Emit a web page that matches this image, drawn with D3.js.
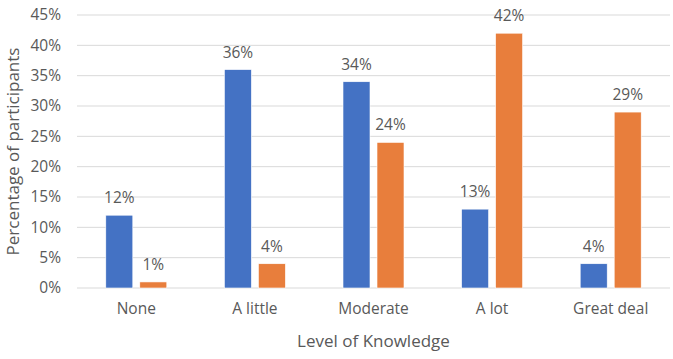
<!DOCTYPE html>
<html><head><meta charset="utf-8">
<script src="https://cdn.jsdelivr.net/npm/d3@7"></script>
<style>body{margin:0;background:#fff}svg{display:block}text{font-family:"Open Sans","Noto Sans",sans-serif;fill:#595959}</style>
</head><body><svg id="c" width="673" height="359"></svg>
<script>
const categories = ["None","A little","Moderate","A lot","Great deal"];
const series1 = [12,36,34,13,4];
const series2 = [1,4,24,42,29];
const yTicks = [0,5,10,15,20,25,30,35,40,45];
const colors = ["#4472C4","#E87E3C"];

const W=673,H=359, m={l:77,r:3,t:15,b:71};
const svg=d3.select("#c");
const x=d3.scaleBand().domain(categories).range([m.l,W-m.r]);
const y=d3.scaleLinear().domain([0,45]).range([H-m.b,m.t]);

const g=svg.append("g");
g.selectAll("line.grid").data(yTicks).join("line")
 .attr("x1",m.l).attr("x2",W-m.r).attr("y1",d=>y(d)).attr("y2",d=>y(d))
 .attr("stroke","#d9d9d9").attr("stroke-width",1);

const yAxis=d3.axisLeft(y).tickValues(yTicks).tickFormat(d=>d+"%").tickSize(0).tickPadding(16);
const ya=svg.append("g").attr("transform",`translate(${m.l},0)`).call(yAxis);
ya.select(".domain").remove();
ya.selectAll("text").style("font-size","15.5px").attr("fill","#595959");

const xAxis=d3.axisBottom(x).tickSize(0).tickPadding(15);
const xa=svg.append("g").attr("transform",`translate(0,${y(0)})`).call(xAxis);
xa.select(".domain").remove();
xa.selectAll("text").style("font-size","15.5px").attr("fill","#595959");

const bw=27, gap=3.5;
const data=[series1,series2];
data.forEach((s,i)=>{
  const off = i===0 ? -gap-bw : gap;
  const gg=svg.append("g");
  gg.selectAll("rect").data(s).join("rect")
   .attr("x",(d,j)=>x(categories[j])+x.bandwidth()/2+off)
   .attr("y",d=>y(d)).attr("width",bw).attr("height",d=>y(0)-y(d))
   .attr("fill",colors[i]).attr("stroke","#fff").attr("stroke-width",0.6);
  gg.selectAll("text").data(s).join("text")
   .attr("x",(d,j)=>x(categories[j])+x.bandwidth()/2+off+bw/2)
   .attr("y",d=>y(d)-12).attr("text-anchor","middle")
   .style("font-size","15.5px").text(d=>d+"%");
});

svg.append("text").attr("x",(m.l+W-m.r)/2).attr("y",347).attr("text-anchor","middle")
 .style("font-size","17px").text("Level of Knowledge");
svg.append("text").attr("transform",`translate(19,${(m.t+y(0))/2}) rotate(-90)`).attr("text-anchor","middle")
 .style("font-size","17px").text("Percentage of participants");
</script></body></html>
